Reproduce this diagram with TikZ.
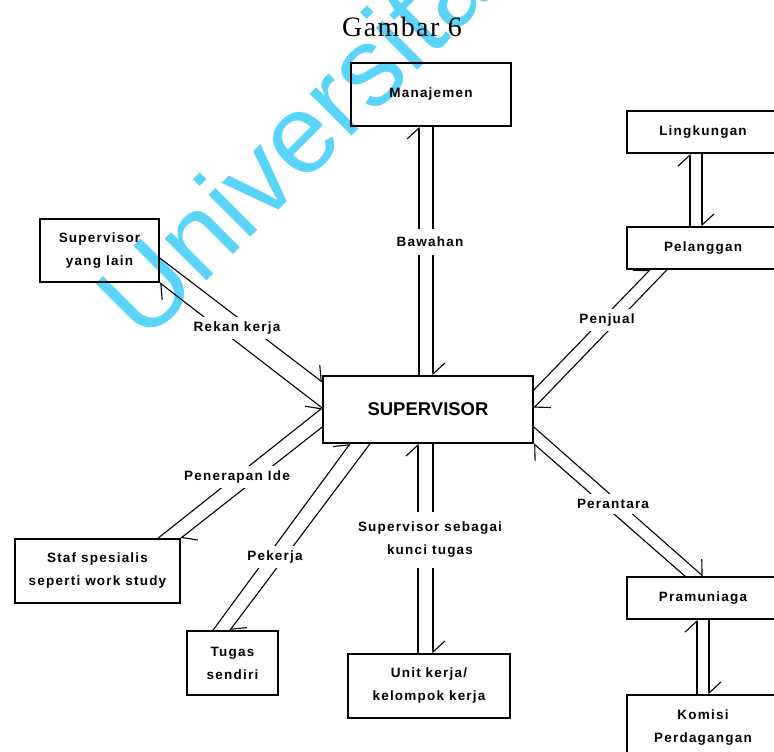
\documentclass[tikz,border=0pt]{standalone}
\usepackage{fontspec}
\usetikzlibrary{arrows.meta}
\setmainfont{Liberation Serif}
\newfontfamily\dfont[LetterSpace=9]{Liberation Sans}
\newfontfamily\titlefont[LetterSpace=5]{Liberation Serif}
\newfontfamily\wmfont{Liberation Sans}
\definecolor{wmcyan}{RGB}{90,212,248}
\begin{document}
\begin{tikzpicture}[x=1pt,y=-1pt,
  box/.style={draw,line width=1.6pt,rectangle,inner sep=0pt,align=center,
    font=\dfont\bfseries\fontsize{13.5}{23}\selectfont},
  conn/.style={line width=1.1pt},
  harp/.style={conn,-{Straight Barb[left,length=11pt,width=24pt]}},
  lbl/.style={fill=white,inner sep=5pt,align=center,
    font=\dfont\bfseries\fontsize{13.5}{23}\selectfont}]
\useasboundingbox (0,0) rectangle (774,752);

% watermark
\node[rotate=45,text=wmcyan,inner sep=0pt,
  font=\wmfont\fontsize{112}{112}\selectfont] (wm) at (312,120) {Universitas};

% title
\node[font=\titlefont\fontsize{28}{30}\selectfont,inner sep=0pt] (title) at (402,27) {Gambar 6};

% boxes
\node[box,minimum width=160pt,minimum height=63pt] (man) at (431,94.5) {Manajemen};
\node[box,minimum width=210pt,minimum height=67pt,font=\wmfont\bfseries\fontsize{18.5}{20}\selectfont] (sup) at (428,409.5) {SUPERVISOR};
\node[box,minimum width=119pt,minimum height=63pt] (syl) at (99.5,250.5) {Supervisor\\yang lain};
\node[box,minimum width=152pt,minimum height=42pt] (lin) at (703,132) {Lingkungan};
\node[box,minimum width=152pt,minimum height=42pt] (pel) at (703,248) {Pelanggan};
\node[box,minimum width=152pt,minimum height=42pt] (pra) at (703,598) {Pramuniaga};
\node[box,minimum width=152pt,minimum height=65pt] (kom) at (703,727.5) {Komisi\\Perdagangan};
\node[box,minimum width=165pt,minimum height=64pt] (stf) at (97.5,571) {Staf spesialis\\seperti work study};
\node[box,minimum width=91pt,minimum height=64pt] (tug) at (232.5,663) {Tugas\\sendiri};
\node[box,minimum width=162pt,minimum height=64pt] (unt) at (429,686) {Unit kerja/\\kelompok kerja};

% Bawahan
\draw[harp] (sup.north -| 419,0) -- (man.south -| 419,0);
\draw[harp] (man.south -| 433,0) -- (sup.north -| 433,0);
% Rekan kerja
\draw[harp] (syl.east |- 0,258) -- (sup.west |- 0,382);
\draw[harp] (sup.west |- 0,408) -- (syl.south east);
% Penjual
\draw[harp] (sup.east |- 0,390) -- (pel.south -| 650,0);
\draw[harp] (pel.south -| 667,0) -- (sup.east |- 0,408);
% Lingkungan - Pelanggan
\draw[harp] (pel.north -| 690,0) -- (lin.south -| 690,0);
\draw[harp] (lin.south -| 702,0) -- (pel.north -| 702,0);
% Perantara
\draw[harp] (sup.east |- 0,427) -- (pra.north -| 703,0);
\draw[harp] (pra.north -| 685,0) -- (sup.south east);
% Pramuniaga - Komisi
\draw[harp] (kom.north -| 697,0) -- (pra.south -| 697,0);
\draw[harp] (pra.south -| 709,0) -- (kom.north -| 709,0);
% Penerapan Ide
\draw[harp] (stf.north -| 158,0) -- (sup.west |- 0,408);
\draw[harp] (sup.west |- 0,427) -- (stf.north east);
% Pekerja
\draw[harp] (tug.north -| 213,0) -- (sup.south -| 350,0);
\draw[harp] (sup.south -| 370,0) -- (tug.north -| 230,0);
% Supervisor sebagai kunci tugas
\draw[harp] (unt.north -| 418,0) -- (sup.south -| 418,0);
\draw[harp] (sup.south -| 433,0) -- (unt.north -| 433,0);

% connector labels
\node[lbl,inner ysep=8pt] (lbaw) at (430,242) {Bawahan};
\node[lbl] (lrek) at (237,328) {Rekan kerja};
\node[lbl] (lpen) at (607,320) {Penjual};
\node[lbl] (lper) at (613,504) {Perantara};
\node[lbl] (lide) at (237,477) {Penerapan Ide};
\node[lbl] (lpek) at (275,557) {Pekerja};
\node[lbl,inner ysep=10pt] (lkun) at (430,540) {Supervisor sebagai\\kunci tugas};
\end{tikzpicture}
\end{document}
